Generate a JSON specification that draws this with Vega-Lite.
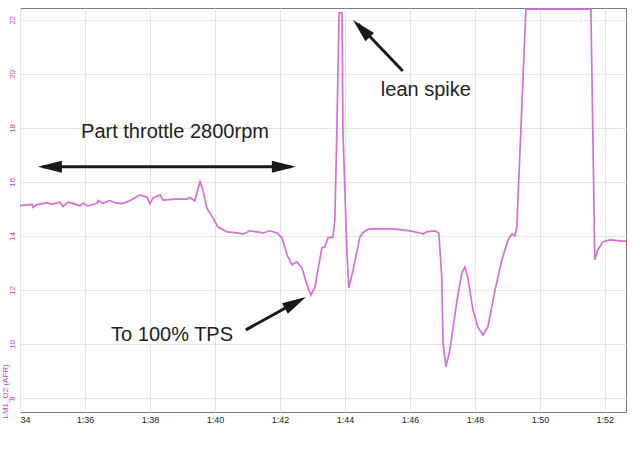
{
  "$schema": "https://vega.github.io/schema/vega-lite/v6.json",
  "width": 606,
  "height": 404,
  "autosize": {"type": "none"},
  "padding": {"left": 20, "top": 8, "right": 14, "bottom": 38},
  "background": "white",
  "config": {"view": {"stroke": "#7a7a7a", "strokeWidth": 1}, "font": "Liberation Sans"},
  "datasets": {
    "afr": [
      {"t": 94.0, "afr": 15.12}, {"t": 94.37, "afr": 15.17}, {"t": 94.4, "afr": 15.06}, {"t": 94.52, "afr": 15.16},
      {"t": 94.83, "afr": 15.23}, {"t": 94.98, "afr": 15.17}, {"t": 95.23, "afr": 15.25}, {"t": 95.32, "afr": 15.09},
      {"t": 95.48, "afr": 15.25}, {"t": 95.85, "afr": 15.12}, {"t": 95.94, "afr": 15.22}, {"t": 96.09, "afr": 15.11},
      {"t": 96.37, "afr": 15.21}, {"t": 96.4, "afr": 15.31}, {"t": 96.55, "afr": 15.21}, {"t": 96.77, "afr": 15.31},
      {"t": 96.92, "afr": 15.23}, {"t": 97.14, "afr": 15.2}, {"t": 97.38, "afr": 15.3}, {"t": 97.69, "afr": 15.52},
      {"t": 97.91, "afr": 15.43}, {"t": 98.0, "afr": 15.19}, {"t": 98.09, "afr": 15.4}, {"t": 98.31, "afr": 15.52},
      {"t": 98.4, "afr": 15.33}, {"t": 98.77, "afr": 15.36}, {"t": 99.14, "afr": 15.36}, {"t": 99.23, "afr": 15.42},
      {"t": 99.38, "afr": 15.3}, {"t": 99.54, "afr": 16.01}, {"t": 99.63, "afr": 15.7}, {"t": 99.75, "afr": 15.03},
      {"t": 99.94, "afr": 14.67}, {"t": 100.09, "afr": 14.33}, {"t": 100.37, "afr": 14.15}, {"t": 100.68, "afr": 14.11},
      {"t": 100.86, "afr": 14.07}, {"t": 101.08, "afr": 14.19}, {"t": 101.48, "afr": 14.11}, {"t": 101.69, "afr": 14.19},
      {"t": 101.91, "afr": 14.11}, {"t": 102.06, "afr": 13.93}, {"t": 102.22, "afr": 13.3}, {"t": 102.37, "afr": 12.93},
      {"t": 102.52, "afr": 13.04}, {"t": 102.68, "afr": 12.81}, {"t": 102.83, "afr": 12.19}, {"t": 102.95, "afr": 11.81},
      {"t": 103.08, "afr": 12.11}, {"t": 103.17, "afr": 12.74}, {"t": 103.29, "afr": 13.56}, {"t": 103.38, "afr": 13.59},
      {"t": 103.48, "afr": 13.93}, {"t": 103.63, "afr": 13.96}, {"t": 103.69, "afr": 14.59}, {"t": 103.75, "afr": 17.81},
      {"t": 103.82, "afr": 22.26}, {"t": 103.91, "afr": 22.26}, {"t": 103.94, "afr": 17.81}, {"t": 104.06, "afr": 13.48},
      {"t": 104.12, "afr": 12.07}, {"t": 104.25, "afr": 12.74}, {"t": 104.46, "afr": 13.96}, {"t": 104.55, "afr": 14.11},
      {"t": 104.68, "afr": 14.22}, {"t": 104.77, "afr": 14.26}, {"t": 105.48, "afr": 14.26}, {"t": 106.0, "afr": 14.19},
      {"t": 106.31, "afr": 14.11}, {"t": 106.4, "afr": 14.07}, {"t": 106.52, "afr": 14.15}, {"t": 106.77, "afr": 14.19},
      {"t": 106.89, "afr": 14.11}, {"t": 106.98, "afr": 12.48}, {"t": 107.02, "afr": 10.04}, {"t": 107.11, "afr": 9.15},
      {"t": 107.23, "afr": 9.78}, {"t": 107.45, "afr": 11.63}, {"t": 107.6, "afr": 12.63}, {"t": 107.69, "afr": 12.85},
      {"t": 107.78, "afr": 12.48}, {"t": 107.94, "afr": 11.26}, {"t": 108.09, "afr": 10.63}, {"t": 108.25, "afr": 10.33},
      {"t": 108.4, "afr": 10.63}, {"t": 108.62, "afr": 12.0}, {"t": 108.83, "afr": 13.11}, {"t": 109.02, "afr": 13.85},
      {"t": 109.14, "afr": 14.07}, {"t": 109.23, "afr": 14.0}, {"t": 109.29, "afr": 14.33}, {"t": 109.57, "afr": 22.4},
      {"t": 111.57, "afr": 22.4}, {"t": 111.69, "afr": 13.11}, {"t": 111.78, "afr": 13.48}, {"t": 111.94, "afr": 13.78},
      {"t": 112.15, "afr": 13.85}, {"t": 112.55, "afr": 13.81}, {"t": 112.65, "afr": 13.81}
    ],
    "arrows": [
      {"t": 94.7, "afr": 16.56, "t2": 102.35, "afr2": 16.56},
      {"t": 105.78, "afr": 20.11, "t2": 104.4, "afr2": 21.85},
      {"t": 100.95, "afr": 10.52, "t2": 102.6, "afr2": 11.62}
    ],
    "heads": [
      {"t": 94.55, "afr": 16.56, "dir": "left"},
      {"t": 102.49, "afr": 16.56, "dir": "right"},
      {"t": 104.25, "afr": 22.0, "dir": "upleft"},
      {"t": 102.8, "afr": 11.74, "dir": "upright"}
    ],
    "notes": [
      {"t": 98.77, "afr": 17.85, "label": "Part throttle 2800rpm"},
      {"t": 106.49, "afr": 19.41, "label": "lean spike"},
      {"t": 98.68, "afr": 10.33, "label": "To 100% TPS"}
    ]
  },
  "layer": [
    {
      "data": {"name": "afr"},
      "mark": {"type": "line", "color": "#d36fd6", "strokeWidth": 1.7, "clip": true, "interpolate": "linear"},
      "encoding": {
        "x": {
          "field": "t", "type": "quantitative",
          "scale": {"domain": [94, 112.65], "nice": false, "zero": false},
          "axis": {
            "title": null,
            "values": [94, 94.5, 95, 95.5, 96, 96.5, 97, 97.5, 98, 98.5, 99, 99.5, 100, 100.5, 101, 101.5, 102, 102.5, 103, 103.5, 104, 104.5, 105, 105.5, 106, 106.5, 107, 107.5, 108, 108.5, 109, 109.5, 110, 110.5, 111, 111.5, 112, 112.5],
            "labelExpr": "datum.value % 1 != 0 ? '' : (datum.value == 94 ? '34' : '1:' + (datum.value - 60))",
            "labelAlign": {"condition": {"test": "datum.value == 94", "value": "left"}, "value": "center"},
            "labelFontSize": 9,
            "labelColor": "#222222",
            "labelPadding": 3,
            "labelOverlap": false,
            "labelFlush": false,
            "ticks": false,
            "domain": false,
            "grid": true,
            "gridColor": "#e4e4e4",
            "gridWidth": 1
          }
        },
        "y": {
          "field": "afr", "type": "quantitative",
          "scale": {"domain": [7.48, 22.44], "nice": false, "zero": false},
          "axis": {
            "title": "LM1_O2 (AFR)",
            "titleColor": "#c040c0",
            "titleFontSize": 8,
            "titleFontWeight": "normal",
            "titleAngle": -90,
            "titleAlign": "left",
            "titleBaseline": "bottom",
            "titleX": -11,
            "titleY": 410,
            "values": [8, 9, 10, 11, 12, 13, 14, 15, 16, 17, 18, 19, 20, 21, 22],
            "labelExpr": "datum.value % 2 == 0 ? datum.value : ''",
            "labelAngle": -90,
            "labelAlign": "center",
            "labelBaseline": "bottom",
            "labelFontSize": 8,
            "labelColor": "#c040c0",
            "labelPadding": 4,
            "labelOverlap": false,
            "ticks": false,
            "domain": false,
            "grid": true,
            "gridColor": "#e4e4e4",
            "gridWidth": 1
          }
        }
      }
    },
    {
      "data": {"name": "arrows"},
      "mark": {"type": "rule", "color": "#1a1a1a", "strokeWidth": 3},
      "encoding": {
        "x": {"field": "t", "type": "quantitative"},
        "y": {"field": "afr", "type": "quantitative"},
        "x2": {"field": "t2"},
        "y2": {"field": "afr2"}
      }
    },
    {
      "data": {"name": "heads"},
      "transform": [{"filter": "datum.dir == 'left'"}],
      "mark": {"type": "point", "shape": "M0,0L-2,-0.5L-2,0.5Z", "size": 576, "filled": true, "opacity": 1, "color": "#1a1a1a", "strokeWidth": 0, "angle": 180},
      "encoding": {
        "x": {"field": "t", "type": "quantitative"},
        "y": {"field": "afr", "type": "quantitative"}
      }
    },
    {
      "data": {"name": "heads"},
      "transform": [{"filter": "datum.dir == 'right'"}],
      "mark": {"type": "point", "shape": "M0,0L-2,-0.5L-2,0.5Z", "size": 576, "filled": true, "opacity": 1, "color": "#1a1a1a", "strokeWidth": 0, "angle": 0},
      "encoding": {
        "x": {"field": "t", "type": "quantitative"},
        "y": {"field": "afr", "type": "quantitative"}
      }
    },
    {
      "data": {"name": "heads"},
      "transform": [{"filter": "datum.dir == 'upleft'"}],
      "mark": {"type": "point", "shape": "M0,0L-2,-0.5L-2,0.5Z", "size": 576, "filled": true, "opacity": 1, "color": "#1a1a1a", "strokeWidth": 0, "angle": 226},
      "encoding": {
        "x": {"field": "t", "type": "quantitative"},
        "y": {"field": "afr", "type": "quantitative"}
      }
    },
    {
      "data": {"name": "heads"},
      "transform": [{"filter": "datum.dir == 'upright'"}],
      "mark": {"type": "point", "shape": "M0,0L-2,-0.5L-2,0.5Z", "size": 576, "filled": true, "opacity": 1, "color": "#1a1a1a", "strokeWidth": 0, "angle": 331},
      "encoding": {
        "x": {"field": "t", "type": "quantitative"},
        "y": {"field": "afr", "type": "quantitative"}
      }
    },
    {
      "data": {"name": "notes"},
      "mark": {"type": "text", "fontSize": 20, "color": "#222222", "font": "Liberation Sans", "align": "center", "baseline": "middle"},
      "encoding": {
        "x": {"field": "t", "type": "quantitative"},
        "y": {"field": "afr", "type": "quantitative"},
        "text": {"field": "label"}
      }
    }
  ]
}
